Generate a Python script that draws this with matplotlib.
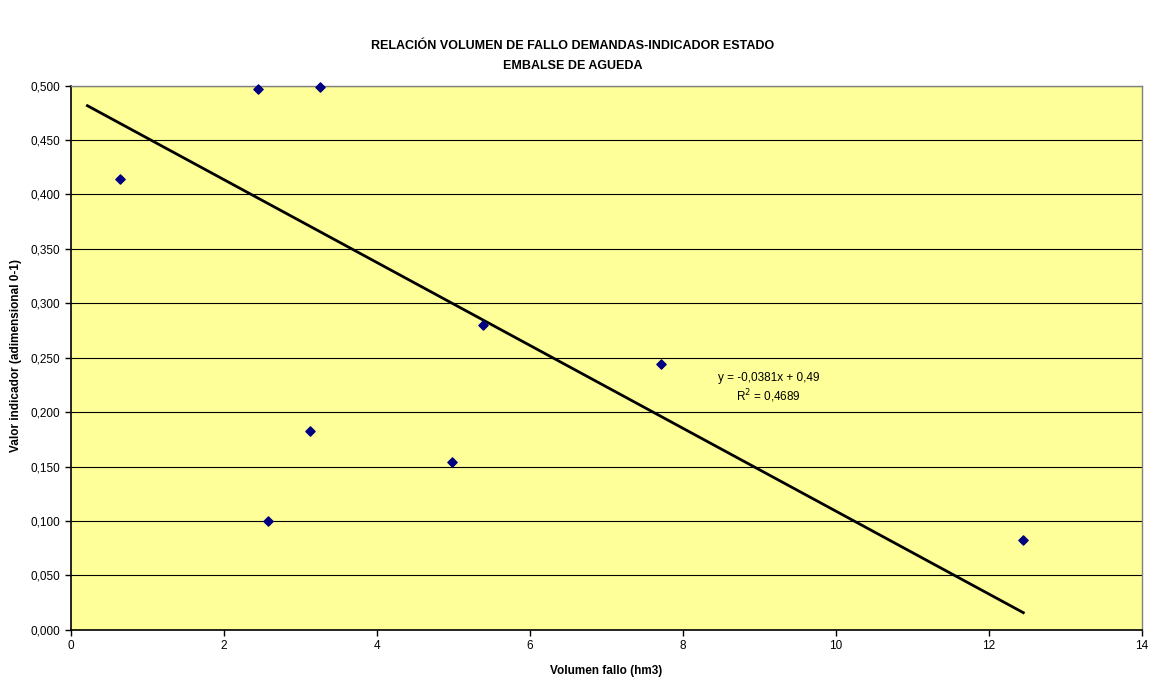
import matplotlib
matplotlib.use("Agg")
import matplotlib.pyplot as plt
from matplotlib.ticker import FuncFormatter, MultipleLocator
import numpy as np

plt.rcParams['font.family'] = ['Liberation Sans', 'DejaVu Sans']

# Data
volumen_fallo = [0.65, 2.45, 3.26, 2.58, 3.13, 4.99, 5.39, 7.72, 12.45]
valor_indicador = [0.414, 0.497, 0.499, 0.100, 0.183, 0.154, 0.280, 0.244, 0.082]
trend_slope = -0.0381
trend_intercept = 0.49
trend_r2 = 0.4689
trend_x_range = [0.22, 12.45]

title = "RELACIÓN VOLUMEN DE FALLO DEMANDAS-INDICADOR ESTADO\nEMBALSE DE AGUEDA"
xlabel = "Volumen fallo (hm3)"
ylabel = "Valor indicador (adimensional 0-1)"

fig = plt.figure(figsize=(11.55, 6.79), dpi=100)
ax = fig.add_axes([0.0611, 0.0726, 0.9887 - 0.0611, 0.8738 - 0.0726])
ax.set_facecolor('#FFFF99')

ax.set_xlim(0, 14)
ax.set_ylim(0, 0.5)
ax.xaxis.set_major_locator(MultipleLocator(2))
ax.yaxis.set_major_locator(MultipleLocator(0.05))
ax.yaxis.set_major_formatter(FuncFormatter(lambda v, p: f"{v:.3f}".replace('.', ',')))
ax.xaxis.set_major_formatter(FuncFormatter(lambda v, p: f"{v:.0f}"))
ax.grid(axis='y', color='black', linewidth=0.8, zorder=0)
ax.set_axisbelow(True)

for s in ['left', 'bottom']:
    ax.spines[s].set_color('black')
    ax.spines[s].set_linewidth(1.2)
for s in ['top', 'right']:
    ax.spines[s].set_color('#808080')
    ax.spines[s].set_linewidth(1.0)

ax.tick_params(axis='both', labelsize=8.5, direction='out', length=4, width=1, colors='black')

tx = np.array(trend_x_range)
ax.plot(tx, trend_slope * tx + trend_intercept, color='black', linewidth=2.0, zorder=3)

ax.scatter(volumen_fallo, valor_indicador, marker='D', s=22, color='#000080', zorder=4, clip_on=False)

eq = f"y = {trend_slope:.4f}x + {trend_intercept:.2f}".replace('.', ',')
ax.text(9.12, 0.231, eq, ha='center', va='center', fontsize=8.5)
ax.text(9.12, 0.215, f"R$^2$ = {trend_r2:.4f}".replace('.', ','), ha='center', va='center', fontsize=8.5)

fig.text(0.496, 0.917, title, ha='center', va='center', fontsize=9, fontweight='bold', linespacing=1.9)
ax.set_xlabel(xlabel, fontsize=8.5, fontweight='bold', labelpad=9)
fig.text(16 / 1155, 1 - 356 / 679, ylabel, rotation=90, ha='center', va='center',
         fontsize=8.5, fontweight='bold')

fig.savefig('out.png', dpi=100, facecolor='white')
